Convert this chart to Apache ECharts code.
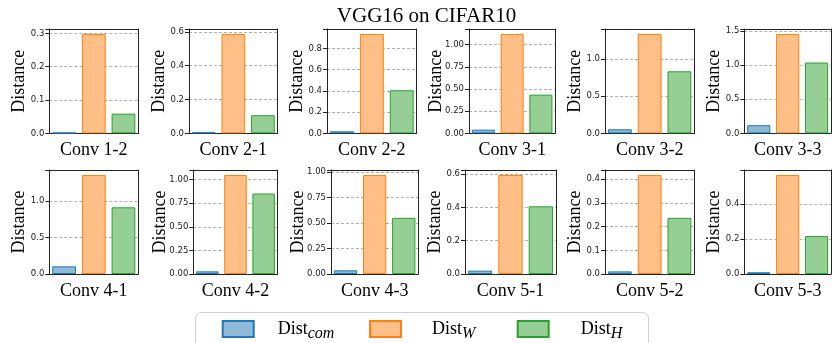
<!DOCTYPE html>
<html>
<head>
<meta charset="utf-8">
<script src="https://cdn.jsdelivr.net/npm/echarts@6/dist/echarts.min.js"></script>
<style>
  html, body { margin: 0; padding: 0; background: #fff; }
  #chart { width: 833px; height: 343px; }
</style>
</head>
<body>
<div id="chart"></div>
<script>
// Layer names, one small bar panel per layer
const layers = ['Conv 1-2', 'Conv 2-1', 'Conv 2-2', 'Conv 3-1', 'Conv 3-2', 'Conv 3-3',
                'Conv 4-1', 'Conv 4-2', 'Conv 4-3', 'Conv 5-1', 'Conv 5-2', 'Conv 5-3'];
const seriesNames = ['Dist_com', 'Dist_W', 'Dist_H'];

// Distances per layer
const distCom = [0.002, 0.006, 0.019, 0.041, 0.054, 0.119, 0.105, 0.028, 0.036, 0.020, 0.011, 0.010];
const distW   = [0.298, 0.588, 0.935, 1.120, 1.336, 1.460, 1.356, 1.049, 0.970, 0.594, 0.418, 0.568];
const distH   = [0.059, 0.107, 0.405, 0.436, 0.834, 1.040, 0.913, 0.852, 0.550, 0.406, 0.237, 0.218];

// Y tick spacing per panel
const tickStep = [0.1, 0.2, 0.2, 0.25, 0.5, 0.5, 0.5, 0.25, 0.25, 0.2, 0.1, 0.2];

// Panel boxes (left, right) in pixels
const boxes = [
  [49.3, 138.3], [189, 277.7], [327, 416.7], [469, 555.3], [605, 694.3], [744.3, 831],
  [49.3, 138.3], [193.3, 277.7], [331, 418.3], [465, 556], [605, 694.3], [744.3, 831]
];

const fills   = ['#8fbbd9', '#ffbf86', '#95cf95'];
const edges   = ['#1f77b4', '#ff7f0e', '#2ca02c'];
const values  = [distCom, distW, distH];

const serif = 'Liberation Serif';
const sans = 'DejaVu Sans';
const boxLine = { show: true, onZero: false, lineStyle: { color: '#222', width: 1 } };

const option = {
  animation: false,
  backgroundColor: '#fff',
  title: {
    text: 'VGG16 on CIFAR10',
    left: 421.5, top: 1, textAlign: 'center',
    textStyle: { fontFamily: serif, fontSize: 21, fontWeight: 'normal', color: '#000' }
  },
  graphic: [{
    type: 'rect', z: -1,
    shape: { x: 195.5, y: 312.5, width: 453, height: 40, r: 6 },
    style: { fill: '#fff', stroke: '#d0d0d0', lineWidth: 1 }
  }],
  grid: [], xAxis: [], yAxis: [], series: [], legend: []
};

layers.forEach((name, i) => {
  const row = i < 6 ? 0 : 1;
  const [l, r] = boxes[i];
  option.grid.push({ left: l, width: r - l, top: row ? 170 : 29, height: row ? 104 : 104.3 });

  const top = Math.max(distCom[i], distW[i], distH[i]) * 1.05;
  const step = tickStep[i];
  const dec = Math.abs(step * 10 - Math.round(step * 10)) > 1e-9 ? 2 : 1;

  // bottom axis carries the layer name, top axis closes the box
  option.xAxis.push({
    gridIndex: i, type: 'category', data: seriesNames, position: 'bottom',
    axisLine: boxLine, axisTick: { show: false }, axisLabel: { show: false },
    splitLine: { show: false },
    name: name, nameLocation: 'middle', nameGap: 8, nameMoveOverlap: false,
    nameTextStyle: { fontFamily: serif, fontSize: 18, color: '#000', verticalAlign: 'top' }
  });
  option.xAxis.push({
    gridIndex: i, type: 'category', data: seriesNames, position: 'top',
    axisLine: boxLine, axisTick: { show: false }, axisLabel: { show: false },
    splitLine: { show: false }, z: 5
  });
  option.yAxis.push({
    gridIndex: i, type: 'value', min: 0, max: top, interval: step, position: 'left',
    axisLine: boxLine,
    axisTick: { show: true, length: 4, lineStyle: { color: '#222' } },
    axisLabel: {
      margin: 5, fontFamily: sans, fontSize: 8.5, color: '#222',
      formatter: v => {
        const k = v / step;
        return Math.abs(k - Math.round(k)) < 1e-6 ? v.toFixed(dec) : '';
      }
    },
    splitLine: { show: true, lineStyle: { color: '#b0b0b0', type: [3, 2], width: 1 } },
    name: 'Distance', nameLocation: 'middle', nameRotate: 90,
    nameGap: dec === 2 ? 24 : 21, nameMoveOverlap: false,
    nameTextStyle: { fontFamily: serif, fontSize: 18, color: '#000' }
  });
  option.yAxis.push({
    gridIndex: i, type: 'value', min: 0, max: top, position: 'right',
    axisLine: boxLine, axisTick: { show: false }, axisLabel: { show: false },
    splitLine: { show: false }, z: 5
  });

  seriesNames.forEach((sn, k) => {
    const data = seriesNames.map((_, j) => (j === k ? values[k][i] : '-'));
    option.series.push({
      type: 'bar', name: sn, xAxisIndex: 2 * i, yAxisIndex: 2 * i,
      data: data, barWidth: '80%', barGap: '-100%',
      itemStyle: { color: fills[k], borderColor: edges[k], borderWidth: 1 }
    });
  });
});

// Legend labels with subscripts
const legendText = {
  Dist_com: '{a|Dist}{b|com}',
  Dist_W: '{a|Dist}{b|W}',
  Dist_H: '{a|Dist}{b|H}'
};
const legendLeft = [221.7, 369, 516.7];
const legendPad = [19, 26, 27];
seriesNames.forEach((sn, k) => {
  option.legend.push({
    data: [sn], left: legendLeft[k], top: 320, padding: 0,
    icon: 'rect', itemWidth: 31, itemHeight: 16, selectedMode: false,
    itemStyle: { borderWidth: 2 },
    formatter: n => legendText[n],
    textStyle: {
      rich: {
        a: { fontFamily: serif, fontSize: 18, color: '#000', padding: [0, 0, 0, legendPad[k]] },
        b: { fontFamily: serif, fontStyle: 'italic', fontSize: 16, color: '#000',
             padding: [9, 0, 0, 0], verticalAlign: 'bottom' }
      }
    }
  });
});

const chart = echarts.init(document.getElementById('chart'), null, { renderer: 'canvas' });
chart.setOption(option);
</script>
</body>
</html>
